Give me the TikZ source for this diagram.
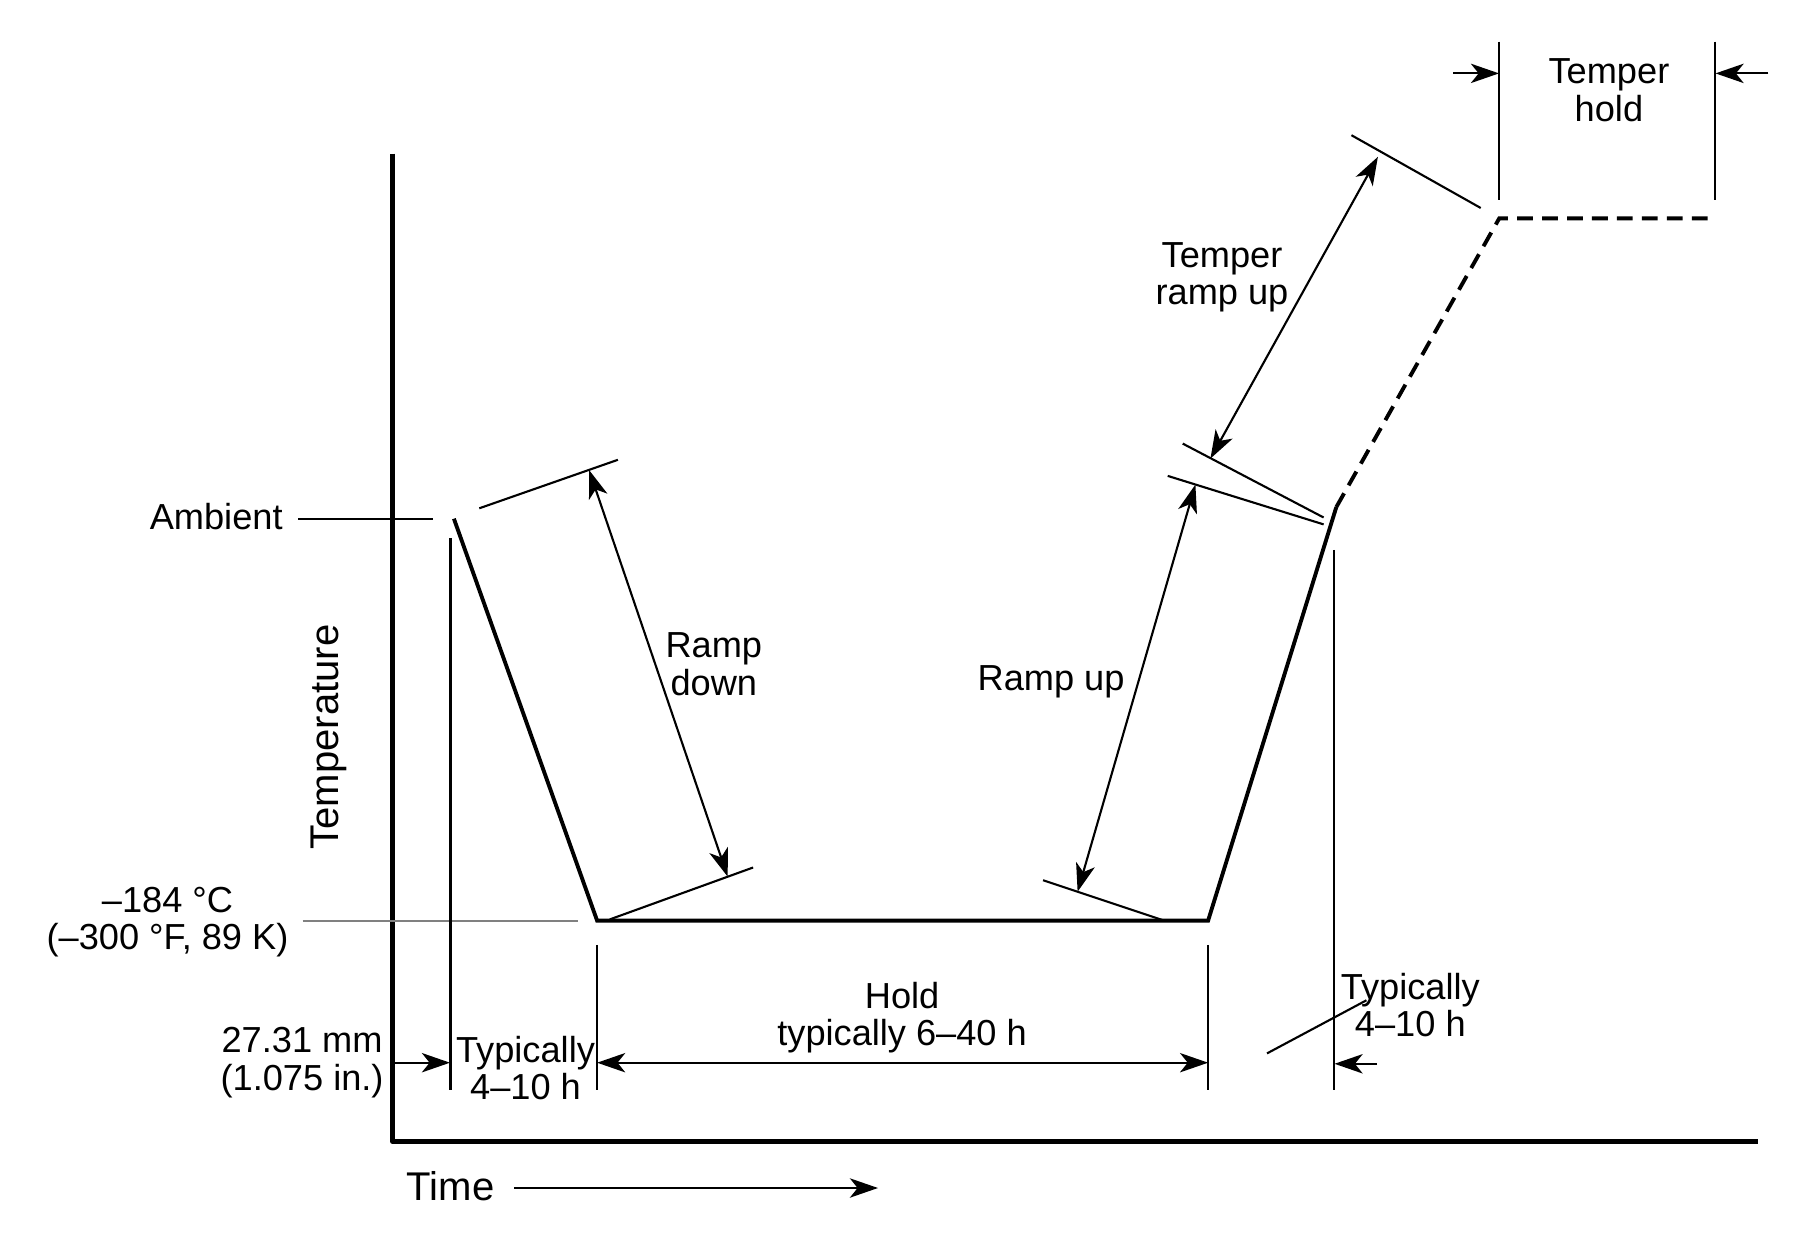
\documentclass[tikz,border=0pt]{standalone}
\usepackage{fontspec}
\setmainfont{Liberation Sans}
\usetikzlibrary{arrows.meta}

\begin{document}
\begin{tikzpicture}[>={Stealth[length=8pt,width=5.5pt,inset=2.2pt]},
  font=\fontsize{10.3}{10.6}\selectfont,
  thinline/.style={line width=0.6pt},
  profile/.style={line width=1.1pt},
  dimarrow/.style={<->,line width=0.6pt},
  axislab/.style={font=\fontsize{11.4}{12}\selectfont}]
  \useasboundingbox (0,0) rectangle (18.11,12.44);

  % Corners of the cryogenic cycle.
  \coordinate (O) at (3.927,1.028);
  \coordinate (A) at (4.539,7.253);
  \coordinate (B) at (5.971,3.234);
  \coordinate (C) at (12.081,3.234);
  \coordinate (D) at (13.363,7.369);
  \coordinate (E) at (14.992,10.256);
  \coordinate (F) at (17.14,10.256);

  % Axes.
  \draw[line width=1.5pt,line join=round] (3.927,10.903) -- (O) -- (17.579,1.028);
  \node[axislab,rotate=90] (templab) at (3.292,5.070) {Temperature};
  \node[axislab] (timelab) at (4.505,0.578) {Time};
  \draw[->,thinline] (5.14,0.56) -- (8.78,0.56);

  % Reference levels.
  \node[anchor=east] (amb) at (2.95,7.27) {Ambient};
  \draw[thinline] (2.98,7.253) -- (4.331,7.253);
  \node[align=center] (tlow) at (1.675,3.222) {–184 °C\\(–300 °F, 89 K)};
  \draw[thinline,gray] (3.026,3.234) -- (5.775,3.234);

  % The cycle itself; tempering part dashed.
  \draw[profile,line join=miter] (A) -- (B) -- (C) -- (D);
  \draw[profile,dash pattern=on 4.5pt off 2.6pt] (D) -- (E) -- (F);

  % Ramp down.
  \draw[thinline] (4.793,7.357) -- (6.179,7.842);
  \draw[thinline] (6.098,3.246) -- (7.531,3.765);
  \draw[dimarrow] (5.891,7.739) -- (7.277,3.673);
  \node[align=center] (rdown) at (7.138,5.798) {Ramp\\down};

  % Ramp up.
  \draw[thinline] (10.430,3.638) -- (11.642,3.234);
  \draw[thinline] (11.677,7.681) -- (13.236,7.196);
  \draw[dimarrow] (11.954,7.594) -- (10.776,3.523);
  \node (rup) at (10.511,5.625) {Ramp up};

  % Temper ramp up.
  \draw[thinline] (11.827,8.004) -- (13.236,7.265);
  \draw[thinline] (13.514,11.088) -- (14.807,10.360);
  \draw[dimarrow] (13.779,10.872) -- (12.104,7.854);
  \node[align=center] (trup) at (12.220,9.667) {Temper\\ramp up};

  % Temper hold.
  \draw[thinline] (14.992,12.024) -- (14.992,10.441);
  \draw[thinline] (17.152,12.024) -- (17.152,10.441);
  \draw[->,thinline] (14.53,11.706) -- (14.99,11.706);
  \draw[->,thinline] (17.683,11.706) -- (17.155,11.706);
  \node[align=center] (thold) at (16.089,11.538) {Temper\\hold};

  % Time spans along the bottom.
  \draw[thinline] (4.505,7.057) -- (4.505,1.536);
  \draw[thinline] (5.971,2.991) -- (5.971,1.536);
  \draw[thinline] (12.081,2.991) -- (12.081,1.536);
  \draw[thinline] (13.340,6.942) -- (13.340,1.536);

  \draw[->,thinline] (O |- 0,1.813) -- (4.50,1.813);
  \node[align=center,anchor=east] (wall) at (3.96,1.813) {27.31 mm\\(1.075 in.)};
  \node[align=center] (tdown) at (5.255,1.756) {Typically\\4–10 h};

  \draw[dimarrow] (5.971,1.813) -- (12.081,1.813);
  \node[align=center] (hold) at (9.021,2.264) {Hold\\typically 6–40 h};

  \draw[thinline] (12.670,1.906) -- (13.664,2.437);
  \draw[->,thinline] (13.77,1.802) -- (13.345,1.802);
  \node[align=center] (tup) at (14.103,2.391) {Typically\\4–10 h};
\end{tikzpicture}
\end{document}
